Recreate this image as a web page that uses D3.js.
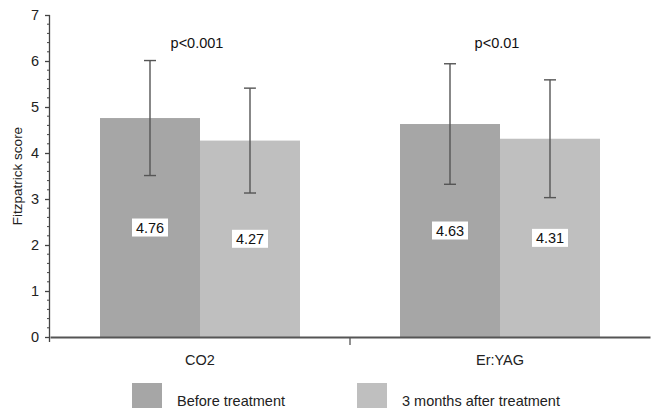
<!DOCTYPE html>
<html><head><meta charset="utf-8">
<script src="https://cdn.jsdelivr.net/npm/d3@7"></script>
<style>body{margin:0;background:#fff}svg{display:block;font-family:"Liberation Sans",Arial,sans-serif}</style>
</head><body><svg id="c" width="651" height="408"></svg>
<script>
const categories = ["CO2", "Er:YAG"];
const seriesNames = ["Before treatment", "3 months after treatment"];
const beforeVals = [4.76, 4.63];
const afterVals = [4.27, 4.31];
const beforeSD = [1.25, 1.31];
const afterSD = [1.14, 1.28];
const pLabels = ["p<0.001", "p<0.01"];
const yTicks = [0, 1, 2, 3, 4, 5, 6, 7];

const colors = ["#a6a6a6", "#bfbfbf"];
const svg = d3.select("#c");
const x0 = 50, x1 = 651, yBase = 337, yTop = 15;
const y = d3.scaleLinear().domain([0, 7]).range([yBase, yTop]);
const xCat = d3.scaleBand().domain(categories).range([x0, x1 - 1]).paddingInner(0).paddingOuter(0);
const xSub = d3.scaleBand().domain([0, 1]).range([0, 200]);
const groupX = c => xCat(c) + xCat.bandwidth() / 2 - 100;

const data = [];
categories.forEach((c, i) => {
  data.push({c, s: 0, v: beforeVals[i], sd: beforeSD[i]});
  data.push({c, s: 1, v: afterVals[i], sd: afterSD[i]});
});

const g = svg.append("g");
g.selectAll("rect.bar").data(data).enter().append("rect")
  .attr("x", d => groupX(d.c) + xSub(d.s))
  .attr("width", xSub.bandwidth())
  .attr("y", d => y(d.v))
  .attr("height", d => y(0) - y(d.v))
  .attr("fill", d => colors[d.s]);

// error bars
const eb = g.selectAll("g.eb").data(data).enter().append("g")
  .attr("stroke", "#555").attr("stroke-width", 1.4);
eb.append("line")
  .attr("x1", d => groupX(d.c) + xSub(d.s) + xSub.bandwidth() / 2)
  .attr("x2", d => groupX(d.c) + xSub(d.s) + xSub.bandwidth() / 2)
  .attr("y1", d => y(d.v + d.sd)).attr("y2", d => y(d.v - d.sd));
[1, -1].forEach(sign => {
  eb.append("line")
    .attr("x1", d => groupX(d.c) + xSub(d.s) + xSub.bandwidth() / 2 - 6)
    .attr("x2", d => groupX(d.c) + xSub(d.s) + xSub.bandwidth() / 2 + 6)
    .attr("y1", d => y(d.v + sign * d.sd)).attr("y2", d => y(d.v + sign * d.sd));
});

// value labels
const vl = g.selectAll("g.vl").data(data).enter().append("g")
  .attr("transform", d => `translate(${groupX(d.c) + xSub(d.s) + xSub.bandwidth() / 2},${y(d.v / 2)})`);
vl.append("rect").attr("x", -18).attr("y", -9).attr("width", 36).attr("height", 18).attr("fill", "#fff");
vl.append("text").attr("text-anchor", "middle").attr("dy", "0.36em")
  .attr("font-size", 14.5).attr("fill", "#111").text(d => d.v.toFixed(2));

// p labels
g.selectAll("text.p").data(categories).enter().append("text")
  .attr("x", c => groupX(c) + 97).attr("y", 48)
  .attr("text-anchor", "middle").attr("font-size", 14.5).attr("fill", "#111")
  .text((c, i) => pLabels[i]);

// y axis
const yAxis = d3.axisLeft(y).tickValues(yTicks).tickFormat(d3.format("d")).tickSize(5).tickPadding(6);
const ya = svg.append("g").attr("transform", `translate(${x0},0)`).call(yAxis);
ya.select(".domain").attr("stroke", "#444").attr("stroke-width", 1.3).attr("d", `M-0.5,${yTop}V${yBase + 5}`);
ya.selectAll(".tick line").attr("stroke", "#444").attr("stroke-width", 1.3);
ya.selectAll(".tick text").attr("font-size", 14.5).attr("fill", "#222").attr("font-family", "Liberation Sans, Arial, sans-serif");
const minor = d3.range(0, 7.001, 0.2).filter(v => Math.abs(v - Math.round(v)) > 0.01);
ya.selectAll("line.minor").data(minor).enter().append("line")
  .attr("x1", -3).attr("x2", 0).attr("y1", d => y(d)).attr("y2", d => y(d))
  .attr("stroke", "#444").attr("stroke-width", 1);

// y title
svg.append("text").attr("transform", `translate(22,${(yTop + yBase) / 2}) rotate(-90)`)
  .attr("text-anchor", "middle").attr("font-size", 13.5).attr("fill", "#222").text("Fitzpatrick score");

// x axis
const xa = svg.append("g").attr("transform", `translate(0,${yBase})`)
  .call(d3.axisBottom(xCat).tickSize(0).tickPadding(18));
xa.select(".domain").attr("stroke", "#555").attr("stroke-width", 2);
xa.selectAll(".tick text").attr("font-size", 14.5).attr("fill", "#222").attr("font-family", "Liberation Sans, Arial, sans-serif");
xa.append("line").attr("x1", xCat(categories[1])).attr("x2", xCat(categories[1]))
  .attr("y1", 0).attr("y2", 8).attr("stroke", "#555").attr("stroke-width", 1.3);

// legend
const legX = [132, 357];
const lg = svg.selectAll("g.leg").data(seriesNames).enter().append("g")
  .attr("transform", (d, i) => `translate(${legX[i]},383)`);
lg.append("rect").attr("width", 30).attr("height", 30).attr("fill", (d, i) => colors[i]);
lg.append("text").attr("x", 45).attr("y", 23).attr("font-size", 14.5).attr("fill", "#222").text(d => d);
</script></body></html>
